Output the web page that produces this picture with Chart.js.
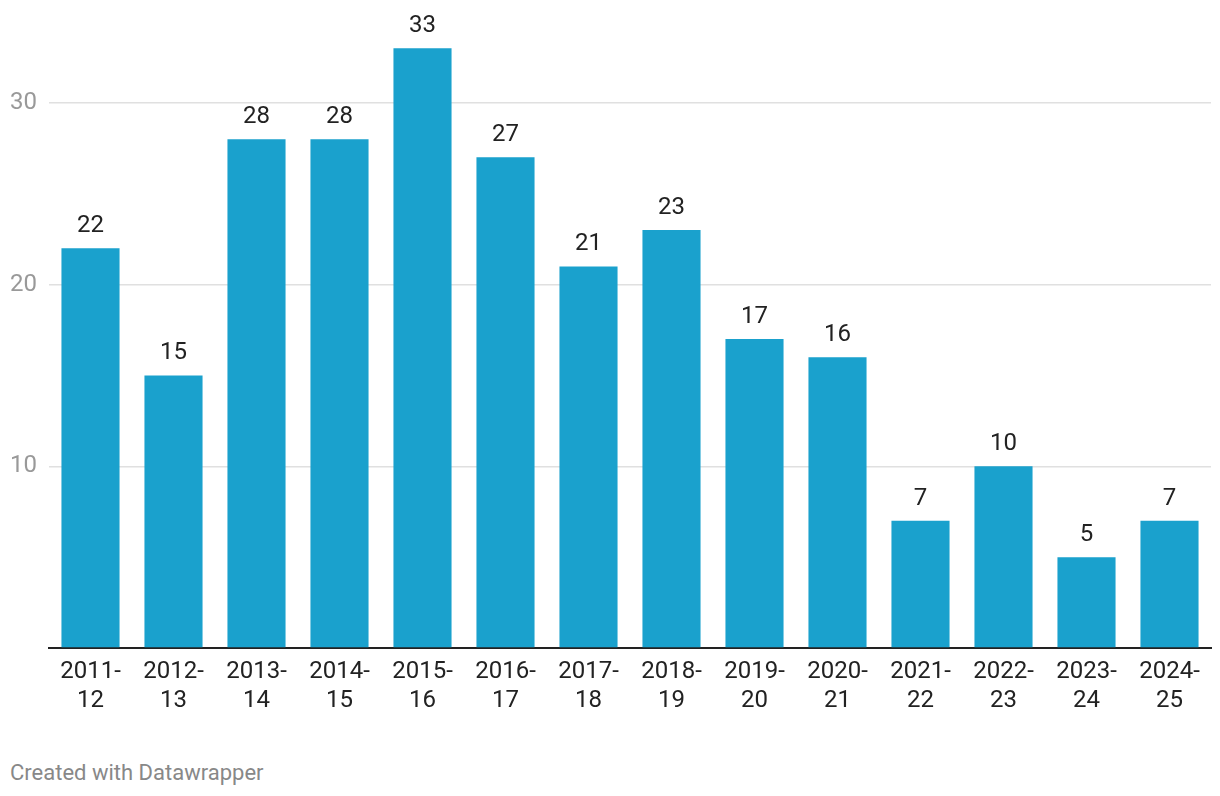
<!DOCTYPE html>
<html>
<head>
<meta charset="utf-8">
<script src="https://cdn.jsdelivr.net/npm/chart.js@4/dist/chart.umd.min.js"></script>
<style>
  html, body { margin: 0; padding: 0; background: #fff; }
  #wrap { position: relative; width: 1220px; height: 796px; }
  #c { position: absolute; left: 0; top: 0; }
  #footer { position: absolute; left: 10px; top: 760px; font-family: Roboto, sans-serif; font-size: 22px; color: #888; }
</style>
</head>
<body>
<div id="wrap">
  <canvas id="c" width="1220" height="740"></canvas>
  <div id="footer">Created with Datawrapper</div>
</div>
<script>
const categories = ["2011-12","2012-13","2013-14","2014-15","2015-16","2016-17","2017-18","2018-19","2019-20","2020-21","2021-22","2022-23","2023-24","2024-25"];
const values = [22, 15, 28, 28, 33, 27, 21, 23, 17, 16, 7, 10, 5, 7];
const yTicks = [10, 20, 30];

const labels = categories.map(c => { const p = c.split('-'); return [p[0] + '-', p[1]]; });

const valueLabels = {
  id: 'valueLabels',
  afterDatasetsDraw(chart) {
    const ctx = chart.ctx;
    const meta = chart.getDatasetMeta(0);
    ctx.save();
    ctx.font = '24px Roboto';
    ctx.fillStyle = '#222';
    ctx.textAlign = 'center';
    ctx.textBaseline = 'alphabetic';
    meta.data.forEach((bar, i) => {
      ctx.fillText(String(values[i]), bar.x, bar.y - 16);
    });
    ctx.restore();
  }
};

new Chart(document.getElementById('c'), {
  type: 'bar',
  data: {
    labels: labels,
    datasets: [{
      data: values,
      backgroundColor: '#1aa1cd',
      barPercentage: 0.7,
      categoryPercentage: 1.0
    }]
  },
  options: {
    responsive: false,
    animation: false,
    layout: { padding: { left: 10, right: 9, top: 12, bottom: 0 } },
    plugins: { legend: { display: false }, tooltip: { enabled: false } },
    scales: {
      x: {
        grid: { display: false, drawTicks: false },
        border: { display: true, color: '#222', width: 2 },
        ticks: { color: '#222', font: { family: 'Roboto', size: 24, lineHeight: 1.2 }, padding: 10, maxRotation: 0, autoSkip: false },
        afterFit(scale) { scale.height = 740 - 648; scale.paddingLeft = 0; scale.paddingRight = 0; }
      },
      y: {
        min: 0, max: 35,
        afterBuildTicks(scale) { scale.ticks = [0].concat(yTicks).map(v => ({ value: v })); },
        grid: {
          drawTicks: false,
          color: ctx => (ctx.tick && ctx.tick.value > 0) ? '#e0e0e0' : 'rgba(0,0,0,0)',
          lineWidth: 1.5
        },
        border: { display: false },
        ticks: {
          color: '#999',
          crossAlign: 'far',
          font: { family: 'Roboto', size: 24 },
          callback: v => v > 0 ? String(v) : ''
        },
        afterFit(scale) { scale.width = 39; scale.paddingTop = 0; scale.paddingBottom = 0; }
      }
    }
  },
  plugins: [valueLabels]
});
</script>
</body>
</html>
